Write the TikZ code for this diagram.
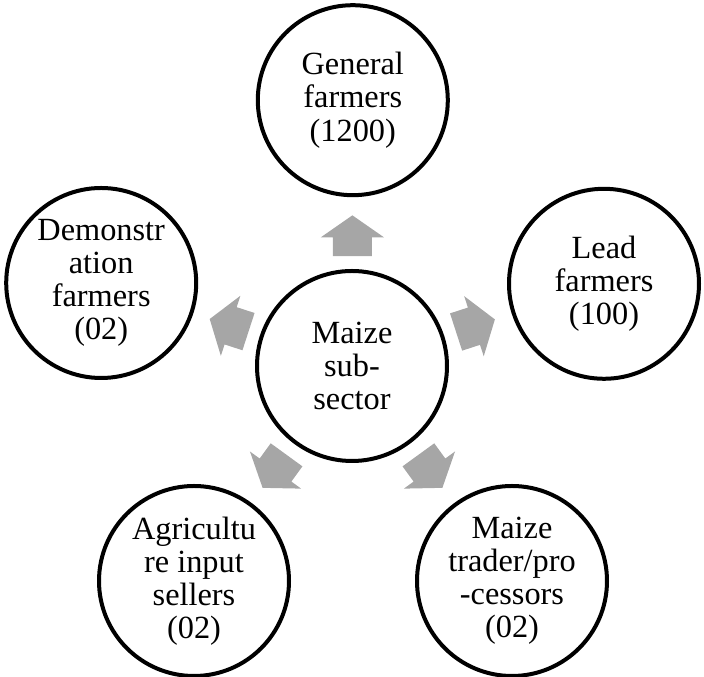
\documentclass[tikz,border=0pt]{standalone}
\usepackage{fontspec}
\setmainfont{Liberation Serif}
\usetikzlibrary{calc}
\definecolor{arrowgray}{HTML}{A6A6A6}
\tikzset{
  actor/.style={draw, circle, line width=0.1cm, minimum size=4.75cm, inner sep=0pt,
    align=center, font=\fontsize{23}{23.5}\selectfont},
  blockarrow/.style={fill=arrowgray}
}
\begin{document}
\begin{tikzpicture}
    \useasboundingbox (0,0) rectangle (17.6,16.925);
    % Central node
    \node[actor] (hub) at (8.8,7.775) {Maize\\sub-\\sector};
    % Actors around it
    \node[actor] (gen) at (8.82,14.42) {General\\farmers\\(1200)};
    \node[actor] (lead) at (15.1,9.83) {Lead\\farmers\\(100)};
    \node[actor] (trad) at (12.8,2.4) {Maize\\trader/pro\\-cessors\\(02)};
    \node[actor] (sell) at (4.85,2.4) {Agricultu\\re input\\sellers\\(02)};
    \node[actor] (demo) at (2.53,9.85) {Demonstr\\ation\\farmers\\(02)};
    % Block arrows from the hub
    \foreach \n/\a in {gen/90, lead/18, trad/-54, sell/-126, demo/162} {
      \begin{scope}[shift={($(hub)!0.49!(\n)$)}, rotate=\a]
        \fill[blockarrow] (-0.51,-0.49) -- (-0.04,-0.49) -- (-0.04,-0.79)
          -- (0.51,0) -- (-0.04,0.79) -- (-0.04,0.49) -- (-0.51,0.49) -- cycle;
      \end{scope}
    }
\end{tikzpicture}
\end{document}
